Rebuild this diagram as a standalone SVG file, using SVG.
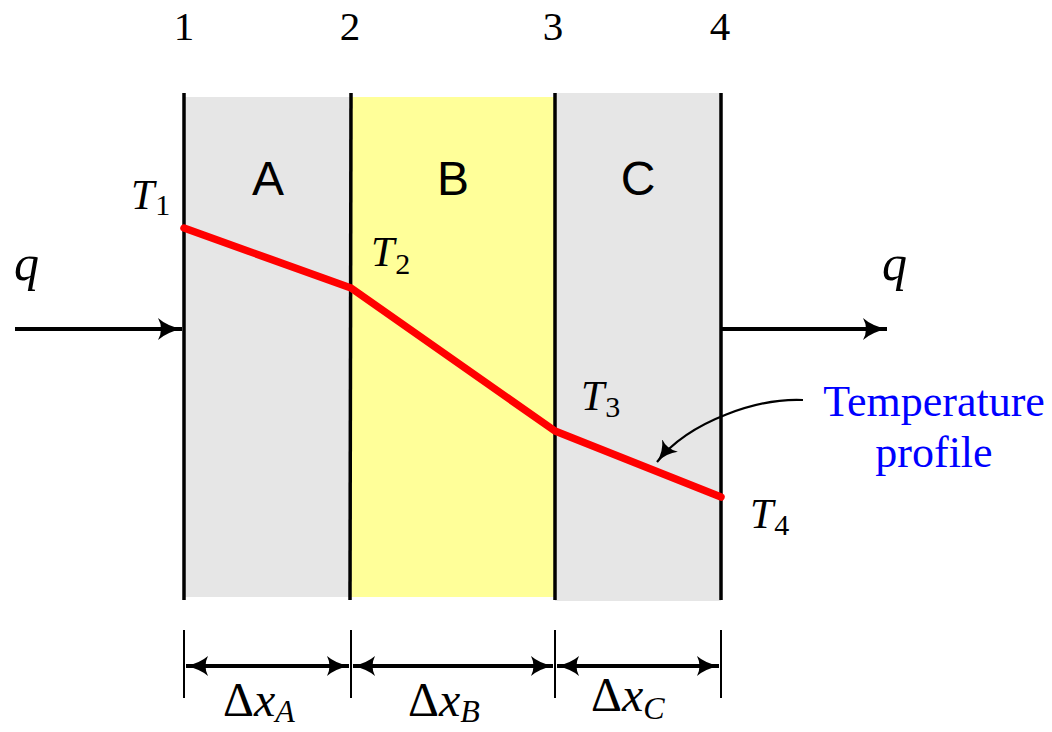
<svg xmlns="http://www.w3.org/2000/svg" width="1052" height="732" viewBox="0 0 1052 732">
<style>
.num{font-family:"Liberation Serif","Times New Roman",Times,serif;font-size:41px;text-anchor:middle;fill:#000}
.lay{font-family:"Liberation Sans",Arial,sans-serif;font-size:48px;text-anchor:middle;fill:#000}
.it{font-family:"Liberation Serif","Times New Roman",Times,serif;font-style:italic;font-size:42px;fill:#000}
.sub{font-style:normal;font-size:30px}
.subi{font-style:italic;font-size:32px}
.up{font-style:normal}
.dx{font-family:"Liberation Serif","Times New Roman",Times,serif;font-style:italic;font-size:48px;fill:#000}
.q{font-family:"Liberation Serif","Times New Roman",Times,serif;font-style:italic;font-size:50px;fill:#000}
.blue{font-family:"Liberation Serif","Times New Roman",Times,serif;font-size:44px;fill:#0000FF;text-anchor:middle}
.wall{stroke:#000;stroke-width:3.5;fill:none}
.ln{stroke:#000;stroke-width:4;fill:none}
.tk{stroke:#000;stroke-width:2;fill:none}
</style>
<defs>
<marker id="ah" markerWidth="26" markerHeight="24" refX="24" refY="12" orient="auto-start-reverse" markerUnits="userSpaceOnUse">
<path d="M0,1 Q9,9 24,12 Q9,15 0,23 Q6,12 0,1 Z" fill="#000"/>
</marker>
<marker id="ahd" markerWidth="24" markerHeight="22" refX="22" refY="11" orient="auto-start-reverse" markerUnits="userSpaceOnUse">
<path d="M0,1 Q8,8 22,11 Q8,14 0,21 Q5,11 0,1 Z" fill="#000"/>
</marker>
<marker id="ah2" markerWidth="24" markerHeight="24" refX="21" refY="12" orient="auto" markerUnits="userSpaceOnUse">
<path d="M0,2 Q8,10 21,12 Q8,14 0,22 Q5,12 0,2 Z" fill="#000"/>
</marker>
</defs>
<g id="layerA"><rect x="184" y="97" width="167" height="500" fill="#E6E6E6"/><text class="lay" x="268" y="195">A</text></g>
<g id="layerB"><rect x="351" y="97" width="204" height="500" fill="#FFFF99"/><text class="lay" x="453" y="195">B</text></g>
<g id="layerC"><rect x="555" y="93" width="166" height="508" fill="#E6E6E6"/><text class="lay" x="638" y="195">C</text></g>
<g id="walls">
<line class="wall" x1="184" y1="93" x2="184" y2="600"/>
<line class="wall" x1="351" y1="93" x2="350" y2="600"/>
<line class="wall" x1="555" y1="93" x2="555" y2="600"/>
<line class="wall" x1="721" y1="93" x2="721" y2="600"/>
</g>
<g id="labels">
<text class="num" x="184" y="40">1</text>
<text class="num" x="350" y="40">2</text>
<text class="num" x="553" y="40">3</text>
<text class="num" x="720" y="40">4</text>
<text class="it" x="131" y="209">T<tspan class="sub" dx="1" dy="6">1</tspan></text>
<text class="it" x="371" y="266">T<tspan class="sub" dx="1" dy="8">2</tspan></text>
<text class="it" x="581" y="410">T<tspan class="sub" dx="1" dy="7">3</tspan></text>
<text class="it" x="750" y="528">T<tspan class="sub" dx="1" dy="7">4</tspan></text>
<text class="q" x="14" y="280">q</text>
<text class="q" x="882" y="280">q</text>
<text class="blue" x="934" y="416">Temperature</text>
<text class="blue" x="934" y="467">profile</text>
<text class="dx" x="223" y="716"><tspan class="up">Δ</tspan>x<tspan class="subi" dy="6">A</tspan></text>
<text class="dx" x="408" y="716"><tspan class="up">Δ</tspan>x<tspan class="subi" dy="6">B</tspan></text>
<text class="dx" x="591" y="711"><tspan class="up">Δ</tspan>x<tspan class="subi" dy="8">C</tspan></text>
</g>
<g id="profile">
<polyline points="184,228 351,288 555,431 721,497" fill="none" stroke="#FF0000" stroke-width="7.5" stroke-linecap="round" stroke-linejoin="round"/>
</g>
<g id="connectors">
<line class="ln" x1="15" y1="329" x2="182" y2="329" marker-end="url(#ah)"/>
<line class="ln" x1="722" y1="329" x2="887" y2="329" marker-end="url(#ah)"/>
<path d="M803,400 C760,398 690,420 657,462" fill="none" stroke="#000" stroke-width="2.2" marker-end="url(#ah2)"/>
<line class="tk" x1="184" y1="630" x2="184" y2="698"/>
<line class="tk" x1="351" y1="630" x2="351" y2="698"/>
<line class="tk" x1="555" y1="630" x2="555" y2="698"/>
<line class="tk" x1="721" y1="630" x2="721" y2="698"/>
<line class="ln" x1="186" y1="666" x2="349" y2="666" stroke-width="2.8" marker-start="url(#ahd)" marker-end="url(#ahd)"/>
<line class="ln" x1="353" y1="666" x2="553" y2="666" stroke-width="2.8" marker-start="url(#ahd)" marker-end="url(#ahd)"/>
<line class="ln" x1="557" y1="666" x2="719" y2="666" stroke-width="2.8" marker-start="url(#ahd)" marker-end="url(#ahd)"/>
</g>
</svg>
